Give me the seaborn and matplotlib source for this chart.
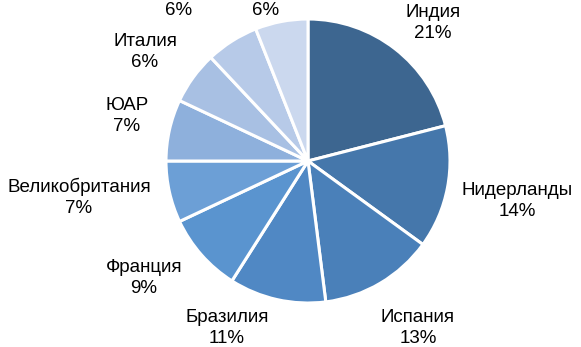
import matplotlib
matplotlib.use("Agg")
import matplotlib.pyplot as plt
import seaborn as sns
import numpy as np

sns.set_theme(style="white")
plt.rcParams['font.family'] = ['Liberation Sans', 'DejaVu Sans']

categories = ["Индия", "Нидерланды", "Испания", "Бразилия", "Франция",
              "Великобритания", "ЮАР", "Италия", "", ""]
values = [21, 14, 13, 11, 9, 7, 7, 6, 6, 6]
pct_labels = ["21%", "14%", "13%", "11%", "9%", "7%", "7%", "6%", "6%", "6%"]

colors = ["#3d6690", "#4577ab", "#4a80b9", "#5088c4", "#5a94cf",
          "#6c9fd6", "#8eb0dc", "#a8c0e3", "#b7cae8", "#cbd8ee"]

W, H = 581, 347
fig = plt.figure(figsize=(W / 100, H / 100), dpi=100)
ax = fig.add_axes([0, 0, 1, 1])
ax.set_xlim(0, W)
ax.set_ylim(0, H)
ax.axis("off")

cx, cy, R = 308, H - 161, 142
wedges, _ = ax.pie(values, colors=colors, startangle=90, counterclock=False,
                   center=(cx, cy), radius=R,
                   wedgeprops=dict(edgecolor="white", linewidth=2.2))
ax.set_xlim(0, W)
ax.set_ylim(0, H)
ax.set_aspect("auto")

# label centres (pixel positions, top-left origin)
label_pos = [(433, 23), (517, 201), (418, 328), (227, 328), (144, 278),
             (79, 197), (127, 116), (145, 52), (179, 10), (266, 10)]
for cat, p, (lx, ly) in zip(categories, pct_labels, label_pos):
    txt = f"{cat}\n{p}" if cat else p
    ax.text(lx, H - ly, txt, ha="center", va="center", fontsize=13.5,
            color="black", linespacing=1.3)

fig.savefig("out.png", dpi=100)
